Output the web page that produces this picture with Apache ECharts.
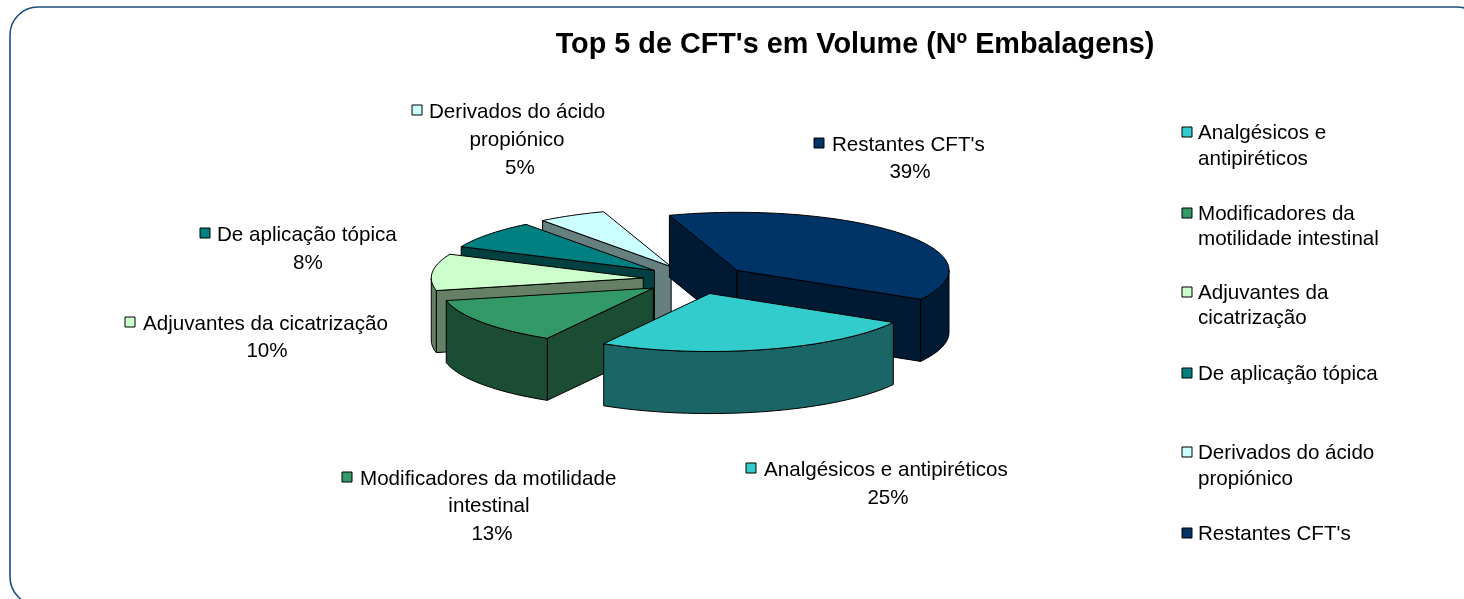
<!DOCTYPE html>
<html>
<head>
<meta charset="utf-8">
<style>
  html, body { margin: 0; padding: 0; background: #fff; }
  #chart { width: 1464px; height: 599px; }
</style>
<script src="https://cdn.jsdelivr.net/npm/echarts@6/dist/echarts.min.js"></script>
</head>
<body>
<div id="chart"></div>
<script>
const titleText = "Top 5 de CFT's em Volume (Nº Embalagens)"
const categories = ['Analgésicos e antipiréticos', 'Modificadores da motilidade intestinal', 'Adjuvantes da cicatrização', 'De aplicação tópica', 'Derivados do ácido propiónico', "Restantes CFT's"]
// the printed labels round these
const values = [25, 13.2, 10.2, 7.9, 5.2, 38.5]
const pieLabelLines = [
  ['Analgésicos e antipiréticos'],
  ['Modificadores da motilidade', 'intestinal'],
  ['Adjuvantes da cicatrização'],
  ['De aplicação tópica'],
  ['Derivados do ácido', 'propiónico'],
  ["Restantes CFT's"]
]
const legendLines = [
  ['Analgésicos e', 'antipiréticos'],
  ['Modificadores da', 'motilidade intestinal'],
  ['Adjuvantes da', 'cicatrização'],
  ['De aplicação tópica'],
  ['Derivados do ácido', 'propiónico'],
  ["Restantes CFT's"]
]

const topColors = ['#33CCCC', '#339966', '#CCFFCC', '#008080', '#CCFFFF', '#003366']
const sideColors = ['#1A6666', '#1A4D33', '#668066', '#004040', '#668080', '#001A33']

// pie shape, in radius units of the hidden axes
const startAngle = 30
const explode = 0.25
const depth = 1.07

// where the labels sit: marker x/y, then centre x of the lines below the first
const labelLayout = [
  { mx: 751, my: 468, tx: 764, rows: [498], cx: [888] },
  { mx: 347, my: 477, tx: 360, rows: [506, 534], cx: [489, 492] },
  { mx: 130, my: 322, tx: 143, rows: [351], cx: [267] },
  { mx: 205, my: 233, tx: 217, rows: [263], cx: [308] },
  { mx: 417, my: 110, tx: 429, rows: [140, 168], cx: [517, 520] },
  { mx: 819, my: 143, tx: 832, rows: [172], cx: [910] }
]
const legendRows = [[132, 158], [213, 238], [292, 317], [373], [452, 478], [533]]

const fontFamily = '"Liberation Sans", Arial, sans-serif'
const textSize = 20.6
const rad = d => d * Math.PI / 180

// slice angles, clockwise from east
const total = values.reduce((a, b) => a + b, 0)
let acc = startAngle
const angles = values.map(v => {
  const a0 = acc
  acc += v / total * 360
  return [a0, acc]
})

// back slices first so the front ones cover them
const drawOrder = values.map((v, i) => i).sort((a, b) => {
  const m = i => Math.sin(rad((angles[i][0] + angles[i][1]) / 2))
  return m(a) - m(b)
})

const renderSlice = (params, api) => {
  const i = api.value(0)
  const [a0, a1] = angles[i]
  const mid = rad((a0 + a1) / 2)
  const ox = explode * Math.cos(mid)
  const oy = explode * Math.sin(mid)
  const pt = (a, z) => api.coord([ox + Math.cos(rad(a)), oy + Math.sin(rad(a)) + z])
  const apex = z => api.coord([ox, oy + z])
  const arc = (from, to, z) => {
    const pts = []
    const n = Math.max(2, Math.ceil((to - from) / 2))
    for (let k = 0; k <= n; k++) pts.push(pt(from + (to - from) * k / n, z))
    return pts
  }
  const poly = (points, fill) => ({
    type: 'polygon',
    shape: { points },
    style: { fill, stroke: '#000', lineWidth: 1, lineJoin: 'round' }
  })
  const children = []

  // radial walls, only those turned to the viewer
  if (Math.sin(rad(a0 - 90)) > 0) {
    children.push(poly([apex(0), pt(a0, 0), pt(a0, depth), apex(depth)], sideColors[i]))
  }
  if (Math.sin(rad(a1 + 90)) > 0) {
    children.push(poly([apex(0), pt(a1, 0), pt(a1, depth), apex(depth)], sideColors[i]))
  }

  // outer wall, front half of the ellipse only
  ;[0, 360].forEach(base => {
    const from = Math.max(a0, base)
    const to = Math.min(a1, base + 180)
    if (to > from) {
      children.push(poly(arc(from, to, 0).concat(arc(from, to, depth).reverse()), sideColors[i]))
    }
  })

  children.push(poly([apex(0)].concat(arc(a0, a1, 0)), topColors[i]))
  return { type: 'group', children }
}

const marker = (x, y, fill) => ({
  type: 'rect',
  silent: true,
  shape: { x: x - 5, y: y - 5, width: 10, height: 10 },
  style: { fill, stroke: '#000', lineWidth: 1, lineJoin: 'miter' }
})
const label = (text, x, y, align) => ({
  type: 'text',
  silent: true,
  x,
  y,
  style: { text, font: `${textSize}px ${fontFamily}`, fill: '#000', textAlign: align, textVerticalAlign: 'middle' }
})

const graphics = [{
  type: 'rect',
  silent: true,
  shape: { x: 10, y: 7, width: 1475, height: 598, r: 28 },
  style: { fill: 'none', stroke: '#1F4E79', lineWidth: 1.6 }
}]

values.forEach((v, i) => {
  const l = labelLayout[i]
  const lines = pieLabelLines[i].concat(`${Math.round(v)}%`)
  graphics.push(marker(l.mx, l.my, topColors[i]))
  graphics.push(label(lines[0], l.tx, l.my + 2, 'left'))
  l.rows.forEach((y, r) => graphics.push(label(lines[r + 1], l.cx[r], y, 'center')))
})

legendLines.forEach((lines, i) => {
  graphics.push(marker(1187, legendRows[i][0], topColors[i]))
  lines.forEach((t, r) => graphics.push(label(t, 1198, legendRows[i][r] + 1, 'left')))
})

const chart = echarts.init(document.getElementById('chart'))
chart.setOption({
  animation: false,
  title: {
    text: titleText,
    left: 850,
    top: 26,
    textAlign: 'center',
    textStyle: { fontFamily, fontSize: 28.8, fontWeight: 'bold', color: '#000' }
  },
  grid: { left: 272, top: 163.5, width: 848, height: 290 },
  xAxis: { type: 'value', min: -2, max: 2, show: false },
  yAxis: { type: 'value', min: -2, max: 3, inverse: true, show: false },
  series: [{
    type: 'custom',
    name: 'Top 5',
    clip: false,
    silent: true,
    encode: { x: 1, y: 2 },
    data: drawOrder.map(i => [i, 0, 0]),
    renderItem: renderSlice
  }],
  graphic: graphics
})
</script>
</body>
</html>
